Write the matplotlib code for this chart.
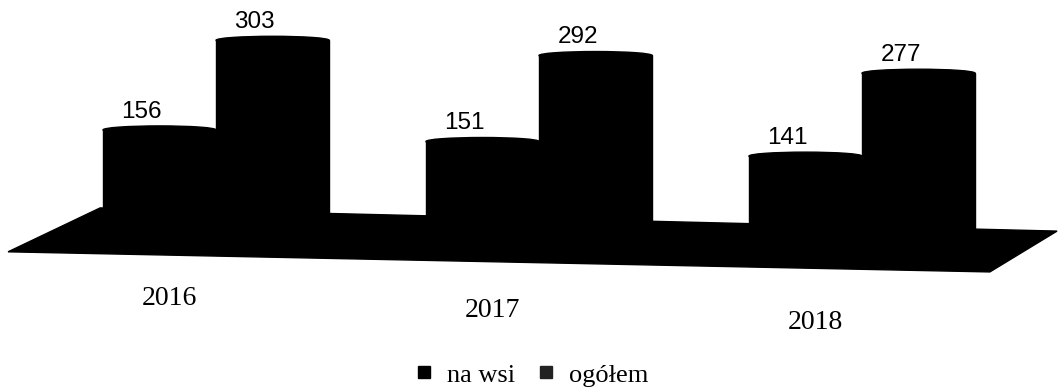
import matplotlib.pyplot as plt
import numpy as np
from matplotlib.patches import Ellipse, Polygon, Rectangle
from matplotlib.lines import Line2D

# dane: liczba osób, na wsi i ogółem
lata = ["2016", "2017", "2018"]
na_wsi = [156, 151, 141]
ogolem = [303, 292, 277]

fig = plt.figure(figsize=(10.59, 3.89), dpi=100)
ax = fig.add_axes([0, 0, 1, 1])
ax.set_xlim(-0.669, 2.61)
ax.set_ylim(-269, 369)
ax.axis("off")

szer = 0.35          # szerokość walca
elipsa_h = 13        # wysokość elipsy na górze walca
x = np.arange(len(lata))
podstawa = -14 * x   # lekkie nachylenie podłogi (perspektywa)

# podłoga wykresu
podloga = Polygon([(-0.644, -44), (-0.359, 28), (2.604, -10), (2.396, -77)],
                  closed=True, facecolor="black", edgecolor="black", zorder=1)
ax.add_patch(podloga)

def walec(xc, y0, h):
    ax.add_patch(Rectangle((xc - szer / 2, y0), szer, h,
                           facecolor="black", edgecolor="black", zorder=2))
    ax.add_patch(Ellipse((xc, y0 + h), szer, elipsa_h,
                         facecolor="black", edgecolor="black", zorder=3))

for i in range(len(lata)):
    for dx, wart in [(-szer / 2, na_wsi[i]), (szer / 2, ogolem[i])]:
        xc = x[i] + dx
        walec(xc, podstawa[i], wart)
        ax.text(xc - 0.055, podstawa[i] + wart + 30, str(wart),
                ha="center", va="center", fontsize=17.5,
                family="Liberation Sans", color="black", zorder=4)
    # podpis roku pod podłogą
    ax.text(x[i] - 0.145, -120 - 20 * i, lata[i], ha="center", va="center",
            fontsize=20, family="Liberation Serif", color="black")

uchwyty = [Line2D([], [], marker="s", linestyle="none", color="black",
                  markersize=9),
           Line2D([], [], marker="s", linestyle="none", color="#222222",
                  markersize=9)]
fig.legend(uchwyty, ["na wsi", "ogółem"], loc="center",
           bbox_to_anchor=(0.502, 0.036), ncol=2, frameon=False,
           handlelength=0.7, handletextpad=0.5, columnspacing=0.85,
           prop={"family": "Liberation Serif", "size": 19})

fig.savefig("out.png", dpi=100)
